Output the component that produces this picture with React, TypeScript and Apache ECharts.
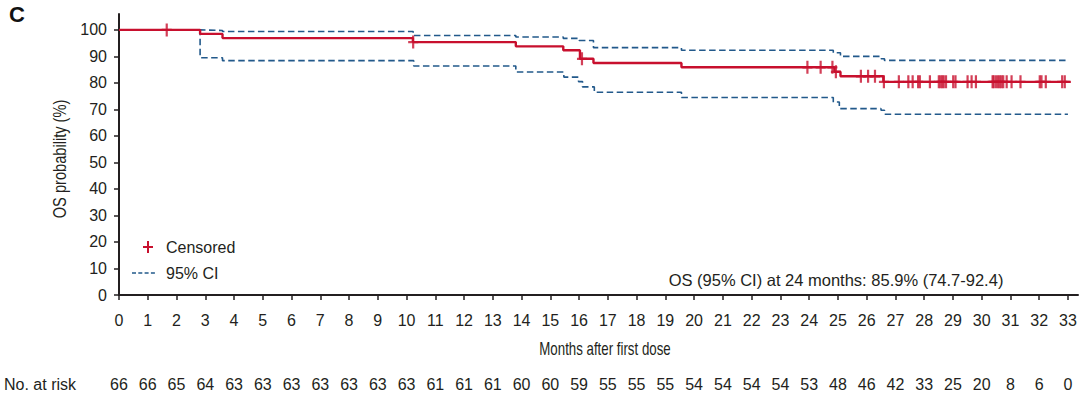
import React, { useEffect, useRef } from "react";
import * as echarts from "echarts";

// ---- data ----
const monthTicks = [0, 1, 2, 3, 4, 5, 6, 7, 8, 9, 10, 11, 12, 13, 14, 15, 16, 17, 18, 19, 20, 21, 22, 23, 24, 25, 26, 27, 28, 29, 30, 31, 32, 33];
const percentTicks = [0, 10, 20, 30, 40, 50, 60, 70, 80, 90, 100];
const atRisk = [66, 66, 65, 64, 63, 63, 63, 63, 63, 63, 63, 61, 61, 61, 60, 60, 59, 55, 55, 55, 54, 54, 54, 54, 53, 48, 46, 42, 33, 25, 20, 8, 6, 0];

// Kaplan-Meier OS estimate: step times (months) and survival after each step (%)
const kmTimes = [0, 2.82, 3.6, 10.22, 13.8, 15.45, 16.03, 16.5, 19.56, 24.88, 25.09, 26.58];
const kmValues = [100, 98.5, 96.9, 95.4, 93.8, 92.3, 89.1, 87.5, 85.9, 84.2, 82.5, 80.4];
const kmEnd = 33.1;

// 95% CI bounds
const upperTimes = [0, 2.82, 3.6, 10.23, 13.8, 15.45, 16.0, 16.5, 19.56, 24.84, 25.09, 26.5, 26.62];
const upperValues = [100, 99.8, 99.4, 97.9, 97.3, 96.8, 96.0, 93.3, 92.3, 91.4, 90.0, 89.1, 88.5];
const lowerTimes = [0, 2.82, 3.6, 10.25, 13.8, 15.47, 15.98, 16.12, 16.53, 19.56, 24.84, 25.05, 26.5, 26.62];
const lowerValues = [100, 89.5, 88.4, 86.4, 84.1, 82.2, 80.5, 78.5, 76.5, 74.5, 72.8, 70.3, 69.7, 68.2];
const ciEnd = 33.0;

// censored observations (months)
const censorTimes = [
  1.66, 10.23, 16.1, 23.94, 24.4, 24.81, 24.93, 25.8, 26.05, 26.29, 26.6,
  27.12, 27.45, 27.6, 27.79, 27.85, 28.2, 28.51, 28.57, 28.63, 28.68, 28.76,
  29.01, 29.09, 29.51, 29.65, 29.8, 30.38, 30.42, 30.5, 30.57, 30.63, 30.69,
  30.75, 30.87, 31.04, 31.35, 32.02, 32.08, 32.23, 32.8, 32.89,
];

const RED = "#c8102e";
const BLUE = "#22598b";
const INK = "#231f20";
const FONT = "'Liberation Sans', Arial, Helvetica, sans-serif";

export default function App() {
  const ref = useRef<HTMLDivElement>(null);

  useEffect(() => {
    document.body.style.margin = "0";
    const chart = echarts.init(ref.current!, null, { renderer: "svg" });

    const stepData = (ts: number[], vs: number[], end: number) => [
      ...ts.map((t, i) => [t, vs[i]]),
      [end, vs[vs.length - 1]],
    ];
    const levelAt = (t: number) => {
      let v = kmValues[0];
      for (let i = 0; i < kmTimes.length; i++) if (kmTimes[i] <= t) v = kmValues[i];
      return v;
    };
    const plus = "path://M-1.1,-6.5H1.1V-1.1H5V1.1H1.1V6.5H-1.1V1.1H-5V-1.1H-1.1Z";

    const labelStyle = { color: INK, fontSize: 16, fontFamily: FONT };

    const option: any = {
      animation: false,
      backgroundColor: "#ffffff",
      grid: { left: 119, right: 13, top: 14, bottom: 102, containLabel: false },
      xAxis: [
        {
          type: "value",
          min: 0,
          max: 33.35,
          interval: 1,
          axisLine: { show: true, onZero: false, lineStyle: { color: INK, width: 2 } },
          axisTick: { show: true, length: 5, customValues: monthTicks, lineStyle: { color: INK, width: 1.5 } },
          axisLabel: { ...labelStyle, customValues: monthTicks, margin: 17 },
          splitLine: { show: false },
        },
        {
          type: "value",
          min: 0,
          max: 33.35,
          interval: 1,
          position: "bottom",
          offset: 78,
          axisLine: { show: false },
          axisTick: { show: false },
          splitLine: { show: false },
          axisLabel: {
            ...labelStyle,
            customValues: monthTicks,
            margin: 3,
            formatter: (v: number) => String(atRisk[Math.round(v)]),
          },
        },
      ],
      yAxis: {
        type: "value",
        min: 0,
        max: 106,
        interval: 10,
        axisLine: { show: true, onZero: false, lineStyle: { color: INK, width: 2 } },
        axisTick: { show: true, length: 5, customValues: percentTicks, lineStyle: { color: INK, width: 1.5 } },
        axisLabel: { ...labelStyle, customValues: percentTicks, margin: 12 },
        splitLine: { show: false },
      },
      series: [
        {
          name: "Upper 95% CI",
          type: "line",
          step: "end",
          symbol: "none",
          z: 2,
          lineStyle: { color: BLUE, width: 1.6, type: [6.5, 3.5] },
          data: stepData(upperTimes, upperValues, ciEnd),
        },
        {
          name: "Lower 95% CI",
          type: "line",
          step: "end",
          symbol: "none",
          z: 2,
          lineStyle: { color: BLUE, width: 1.6, type: [6.5, 3.5] },
          data: stepData(lowerTimes, lowerValues, ciEnd),
        },
        {
          name: "OS",
          type: "line",
          step: "end",
          symbol: "none",
          z: 3,
          lineStyle: { color: RED, width: 2.4 },
          data: stepData(kmTimes, kmValues, kmEnd),
        },
        {
          name: "Censored",
          type: "scatter",
          symbol: plus,
          symbolSize: [10, 13],
          z: 4,
          itemStyle: { color: RED },
          data: censorTimes.map((t) => [t, levelAt(t)]),
        },
      ],
      graphic: [
        {
          type: "text",
          x: 9,
          y: 14,
          style: { text: "C", font: `bold 22px ${FONT}`, fill: "#111", align: "left", verticalAlign: "middle" },
        },
        {
          type: "text",
          x: 60,
          y: 159,
          rotation: Math.PI / 2,
          scaleX: 0.77,
          style: { text: "OS probability (%)", font: `19px ${FONT}`, fill: INK, align: "center", verticalAlign: "middle" },
        },
        {
          type: "text",
          x: 605,
          y: 348,
          scaleX: 0.7,
          style: { text: "Months after first dose", font: `19px ${FONT}`, fill: INK, align: "center", verticalAlign: "middle" },
        },
        {
          type: "text",
          x: 4,
          y: 384,
          style: { text: "No. at risk", font: `16px ${FONT}`, fill: INK, align: "left", verticalAlign: "middle" },
        },
        {
          type: "text",
          x: 836,
          y: 280,
          style: { text: "OS (95% CI) at 24 months: 85.9% (74.7-92.4)", font: `16.5px ${FONT}`, fill: INK, align: "center", verticalAlign: "middle" },
        },
        { type: "line", shape: { x1: 143, y1: 247, x2: 153, y2: 247 }, style: { stroke: RED, lineWidth: 2 } },
        { type: "line", shape: { x1: 148, y1: 241, x2: 148, y2: 253 }, style: { stroke: RED, lineWidth: 2 } },
        {
          type: "text",
          x: 166,
          y: 247,
          style: { text: "Censored", font: `16px ${FONT}`, fill: INK, align: "left", verticalAlign: "middle" },
        },
        { type: "line", shape: { x1: 132, y1: 273, x2: 155, y2: 273 }, style: { stroke: BLUE, lineWidth: 1.5, lineDash: [4, 2.3] } },
        {
          type: "text",
          x: 166,
          y: 273,
          style: { text: "95% CI", font: `16px ${FONT}`, fill: INK, align: "left", verticalAlign: "middle" },
        },
      ],
    };

    chart.setOption(option);
    return () => chart.dispose();
  }, []);

  return <div ref={ref} style={{ width: 1091, height: 397 }} />;
}
